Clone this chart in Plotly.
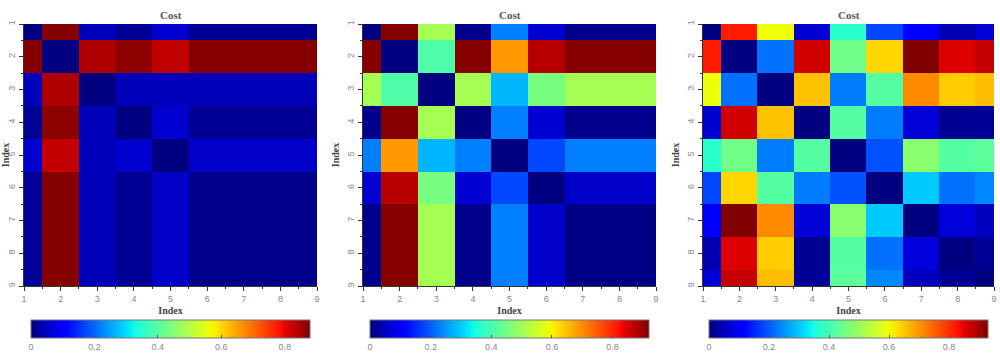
import plotly.graph_objects as go
import numpy as np

idx = [1, 2, 3, 4, 5, 6, 7, 8, 9]
tick_vals = [1, 2, 3, 4, 5, 6, 7, 8, 9]
cb_ticks = [0, 0.2, 0.4, 0.6, 0.8]

cost_a = [
    [0.00, 0.875, 0.045, 0.015, 0.060, 0.015, 0.015, 0.015, 0.015],
    [0.875, 0.00, 0.845, 0.870, 0.830, 0.875, 0.875, 0.875, 0.875],
    [0.045, 0.845, 0.00, 0.045, 0.045, 0.045, 0.045, 0.045, 0.045],
    [0.015, 0.870, 0.045, 0.00, 0.060, 0.015, 0.015, 0.015, 0.015],
    [0.060, 0.830, 0.045, 0.060, 0.00, 0.055, 0.055, 0.055, 0.055],
    [0.015, 0.875, 0.045, 0.015, 0.055, 0.010, 0.010, 0.010, 0.010],
    [0.015, 0.875, 0.045, 0.015, 0.055, 0.010, 0.010, 0.010, 0.010],
    [0.015, 0.875, 0.045, 0.015, 0.055, 0.010, 0.010, 0.010, 0.010],
    [0.015, 0.875, 0.045, 0.015, 0.055, 0.010, 0.010, 0.010, 0.010],
]

cost_b = [
    [0.00, 0.915, 0.506, 0.010, 0.230, 0.065, 0.010, 0.010, 0.010],
    [0.915, 0.00, 0.410, 0.915, 0.690, 0.875, 0.915, 0.915, 0.915],
    [0.506, 0.410, 0.00, 0.506, 0.280, 0.456, 0.506, 0.506, 0.506],
    [0.010, 0.915, 0.506, 0.00, 0.230, 0.065, 0.010, 0.010, 0.010],
    [0.230, 0.690, 0.280, 0.230, 0.00, 0.180, 0.230, 0.230, 0.230],
    [0.065, 0.875, 0.456, 0.065, 0.180, 0.00, 0.060, 0.060, 0.060],
    [0.010, 0.915, 0.506, 0.010, 0.230, 0.060, 0.005, 0.005, 0.005],
    [0.010, 0.915, 0.506, 0.010, 0.230, 0.060, 0.005, 0.005, 0.005],
    [0.010, 0.915, 0.506, 0.010, 0.230, 0.060, 0.005, 0.005, 0.005],
]

cost_c = [
    [0.00, 0.82, 0.595, 0.065, 0.37, 0.18, 0.107, 0.04, 0.07],
    [0.82, 0.00, 0.22, 0.865, 0.45, 0.635, 0.93, 0.855, 0.875],
    [0.595, 0.22, 0.00, 0.655, 0.23, 0.42, 0.71, 0.645, 0.66],
    [0.065, 0.865, 0.655, 0.00, 0.42, 0.23, 0.07, 0.015, 0.02],
    [0.37, 0.45, 0.23, 0.42, 0.00, 0.19, 0.48, 0.42, 0.43],
    [0.18, 0.635, 0.42, 0.23, 0.19, 0.00, 0.30, 0.22, 0.24],
    [0.107, 0.93, 0.71, 0.07, 0.48, 0.30, 0.00, 0.075, 0.05],
    [0.04, 0.855, 0.645, 0.015, 0.42, 0.22, 0.075, 0.00, 0.02],
    [0.07, 0.875, 0.66, 0.02, 0.43, 0.24, 0.05, 0.02, 0.00],
]

zmaxes = [0.88, 0.92, 0.93]


def mpl_jet():
    red = [(0, 0), (0.35, 0), (0.66, 1), (0.89, 1), (1, 0.5)]
    green = [(0, 0), (0.125, 0), (0.375, 1), (0.64, 1), (0.91, 0), (1, 0)]
    blue = [(0, 0.5), (0.11, 1), (0.34, 1), (0.65, 0), (1, 0)]
    pts = sorted(set([p for seg in (red, green, blue) for p, _ in seg]))
    def f(seg, t):
        xs = [a for a, _ in seg]
        ys = [b for _, b in seg]
        return float(np.interp(t, xs, ys))
    cs = []
    for t in pts:
        cs.append([t, "rgb(%d,%d,%d)" % (round(255 * f(red, t)), round(255 * f(green, t)), round(255 * f(blue, t)))])
    return cs


jet = mpl_jet()

xdoms = [[0.024, 0.317], [0.363, 0.656], [0.703, 0.994]]
cbx = [[0.031, 0.310], [0.370, 0.649], [0.709, 0.988]]
ydom = [1 - 286 / 360, 1 - 24 / 360]

fig = go.Figure()
layout = dict(
    width=1000, height=360,
    margin=dict(l=0, r=0, t=0, b=0, autoexpand=False),
    paper_bgcolor="white", plot_bgcolor="white",
    showlegend=False,
    annotations=[],
)

serif = "Liberation Serif"
for i, (z, zmax) in enumerate(zip([cost_a, cost_b, cost_c], zmaxes)):
    n = "" if i == 0 else str(i + 1)
    fig.add_trace(go.Heatmap(
        z=z, x=idx, y=idx, zmin=0, zmax=zmax,
        colorscale=jet,
        xaxis="x" + n, yaxis="y" + n,
        colorbar=dict(
            orientation="h",
            x=(cbx[i][0] + cbx[i][1]) / 2, xanchor="center",
            len=cbx[i][1] - cbx[i][0], lenmode="fraction",
            y=1 - 320 / 360, yanchor="top",
            thickness=18, xpad=0, ypad=0,
            outlinewidth=1, outlinecolor="#777",
            tickvals=cb_ticks, ticktext=["0", "0.2", "0.4", "0.6", "0.8"],
            ticks="inside", ticklen=3, tickcolor="#444",
            tickfont=dict(size=9, color="#888", family="Liberation Sans"),
        ),
    ))
    layout["xaxis" + n] = dict(
        domain=xdoms[i], anchor="y" + n, range=[1, 9],
        tickvals=tick_vals, ticks="outside", ticklen=4, tickcolor="#333",
        minor=dict(nticks=5, ticks="outside", ticklen=2, tickcolor="#333"),
        showline=True, linecolor="#333", linewidth=1,
        showgrid=False, zeroline=False,
        tickfont=dict(size=9, color="#888", family="Liberation Sans"),
        title=dict(text="<b>Index</b>", font=dict(size=10, family=serif, color="#444"), standoff=4),
    )
    layout["yaxis" + n] = dict(
        domain=ydom, anchor="x" + n, range=[9, 1],
        tickvals=tick_vals, ticks="outside", ticklen=4, tickcolor="#333",
        minor=dict(nticks=5, ticks="outside", ticklen=2, tickcolor="#333"),
        showline=True, linecolor="#333", linewidth=1,
        showgrid=False, zeroline=False, tickangle=-90,
        tickfont=dict(size=9, color="#888", family="Liberation Sans"),
        title=dict(text="<b>Index</b>", font=dict(size=10, family=serif, color="#444"), standoff=4),
    )
    layout["annotations"].append(dict(
        text="<b>Cost</b>", x=(xdoms[i][0] + xdoms[i][1]) / 2, y=1 - 15 / 360,
        xref="paper", yref="paper", showarrow=False, yanchor="middle", xanchor="center",
        font=dict(size=11, family=serif, color="#555"),
    ))

fig.update_layout(**layout)
fig.write_html("out.html")
